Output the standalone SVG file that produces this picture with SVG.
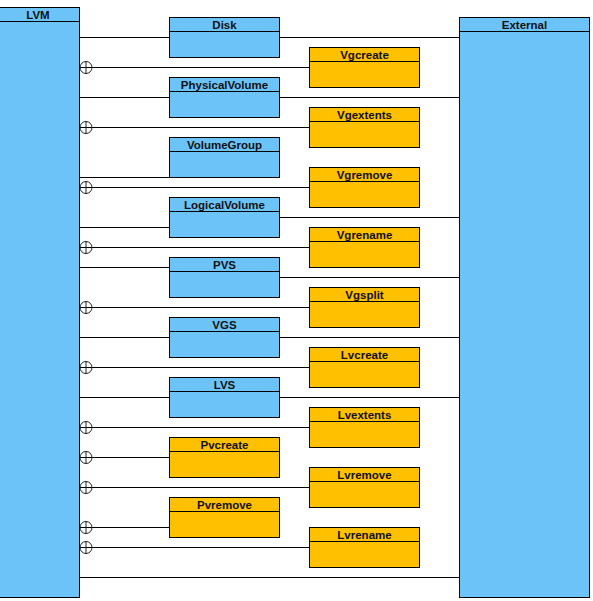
<svg xmlns="http://www.w3.org/2000/svg" width="593" height="601" viewBox="0 0 593 601">
<style>
.b{fill:#6BC3F8;stroke:#000;stroke-width:1}
.o{fill:#FFC000;stroke:#000;stroke-width:1}
.h{stroke:#000;stroke-width:1}
.t{font-family:"Liberation Sans",Arial,sans-serif;font-size:11.5px;font-weight:bold;fill:#111;text-anchor:middle}
.c{fill:none;stroke:#000;stroke-width:1}
.cp{fill:none;stroke:#000;stroke-width:1;marker-start:url(#comp)}
</style>
<defs>
<marker id="comp" markerUnits="userSpaceOnUse" markerWidth="14" markerHeight="14" refX="0" refY="7" orient="auto" overflow="visible">
<circle cx="6.5" cy="7" r="6" fill="none" stroke="#222" stroke-width="1"/>
<line x1="6.5" y1="1" x2="6.5" y2="13" stroke="#222" stroke-width="1"/>
</marker>
</defs>
<rect width="593" height="601" fill="#fff"/>
<g id="connectors">
<path class="c" d="M79.5 37.5H169.5M279.5 37.5H459.5"/>
<path class="c" d="M79.5 97.5H169.5M279.5 97.5H459.5"/>
<path class="c" d="M79.5 177.5H169.5"/>
<path class="c" d="M79.5 227.5H169.5M279.5 217.5H459.5"/>
<path class="c" d="M79.5 267.5H169.5M279.5 277.5H459.5"/>
<path class="c" d="M79.5 337.5H169.5M279.5 337.5H459.5"/>
<path class="c" d="M79.5 397.5H169.5M279.5 397.5H459.5"/>
<path class="c" d="M79.5 577.5H459.5"/>
<path class="cp" d="M79.5 67.5H309.5"/>
<path class="cp" d="M79.5 127.5H309.5"/>
<path class="cp" d="M79.5 187.5H309.5"/>
<path class="cp" d="M79.5 247.5H309.5"/>
<path class="cp" d="M79.5 307.5H309.5"/>
<path class="cp" d="M79.5 367.5H309.5"/>
<path class="cp" d="M79.5 427.5H309.5"/>
<path class="cp" d="M79.5 457.5H169.5"/>
<path class="cp" d="M79.5 487.5H309.5"/>
<path class="cp" d="M79.5 527.5H169.5"/>
<path class="cp" d="M79.5 547.5H309.5"/>
</g>
<g id="LVM"><rect class="b" x="-3.5" y="7.5" width="83" height="590"/><line class="h" x1="-3.5" y1="21.5" x2="79.5" y2="21.5"/><text class="t" x="38" y="18.5">LVM</text></g>
<g id="External"><rect class="b" x="459.5" y="17.5" width="130" height="580"/><line class="h" x1="459.5" y1="31.5" x2="589.5" y2="31.5"/><text class="t" x="524.5" y="28.5">External</text></g>
<g id="Disk"><rect class="b" x="169.5" y="17.5" width="110" height="40"/><line class="h" x1="169.5" y1="31.5" x2="279.5" y2="31.5"/><text class="t" x="224.5" y="28.5">Disk</text></g>
<g id="PhysicalVolume"><rect class="b" x="169.5" y="77.5" width="110" height="40"/><line class="h" x1="169.5" y1="91.5" x2="279.5" y2="91.5"/><text class="t" x="224.5" y="88.5">PhysicalVolume</text></g>
<g id="VolumeGroup"><rect class="b" x="169.5" y="137.5" width="110" height="40"/><line class="h" x1="169.5" y1="151.5" x2="279.5" y2="151.5"/><text class="t" x="224.5" y="148.5">VolumeGroup</text></g>
<g id="LogicalVolume"><rect class="b" x="169.5" y="197.5" width="110" height="40"/><line class="h" x1="169.5" y1="211.5" x2="279.5" y2="211.5"/><text class="t" x="224.5" y="208.5">LogicalVolume</text></g>
<g id="PVS"><rect class="b" x="169.5" y="257.5" width="110" height="40"/><line class="h" x1="169.5" y1="271.5" x2="279.5" y2="271.5"/><text class="t" x="224.5" y="268.5">PVS</text></g>
<g id="VGS"><rect class="b" x="169.5" y="317.5" width="110" height="40"/><line class="h" x1="169.5" y1="331.5" x2="279.5" y2="331.5"/><text class="t" x="224.5" y="328.5">VGS</text></g>
<g id="LVS"><rect class="b" x="169.5" y="377.5" width="110" height="40"/><line class="h" x1="169.5" y1="391.5" x2="279.5" y2="391.5"/><text class="t" x="224.5" y="388.5">LVS</text></g>
<g id="Pvcreate"><rect class="o" x="169.5" y="437.5" width="110" height="40"/><line class="h" x1="169.5" y1="451.5" x2="279.5" y2="451.5"/><text class="t" x="224.5" y="448.5">Pvcreate</text></g>
<g id="Pvremove"><rect class="o" x="169.5" y="497.5" width="110" height="40"/><line class="h" x1="169.5" y1="511.5" x2="279.5" y2="511.5"/><text class="t" x="224.5" y="508.5">Pvremove</text></g>
<g id="Vgcreate"><rect class="o" x="309.5" y="47.5" width="110" height="40"/><line class="h" x1="309.5" y1="61.5" x2="419.5" y2="61.5"/><text class="t" x="364.5" y="58.5">Vgcreate</text></g>
<g id="Vgextents"><rect class="o" x="309.5" y="107.5" width="110" height="40"/><line class="h" x1="309.5" y1="121.5" x2="419.5" y2="121.5"/><text class="t" x="364.5" y="118.5">Vgextents</text></g>
<g id="Vgremove"><rect class="o" x="309.5" y="167.5" width="110" height="40"/><line class="h" x1="309.5" y1="181.5" x2="419.5" y2="181.5"/><text class="t" x="364.5" y="178.5">Vgremove</text></g>
<g id="Vgrename"><rect class="o" x="309.5" y="227.5" width="110" height="40"/><line class="h" x1="309.5" y1="241.5" x2="419.5" y2="241.5"/><text class="t" x="364.5" y="238.5">Vgrename</text></g>
<g id="Vgsplit"><rect class="o" x="309.5" y="287.5" width="110" height="40"/><line class="h" x1="309.5" y1="301.5" x2="419.5" y2="301.5"/><text class="t" x="364.5" y="298.5">Vgsplit</text></g>
<g id="Lvcreate"><rect class="o" x="309.5" y="347.5" width="110" height="40"/><line class="h" x1="309.5" y1="361.5" x2="419.5" y2="361.5"/><text class="t" x="364.5" y="358.5">Lvcreate</text></g>
<g id="Lvextents"><rect class="o" x="309.5" y="407.5" width="110" height="40"/><line class="h" x1="309.5" y1="421.5" x2="419.5" y2="421.5"/><text class="t" x="364.5" y="418.5">Lvextents</text></g>
<g id="Lvremove"><rect class="o" x="309.5" y="467.5" width="110" height="40"/><line class="h" x1="309.5" y1="481.5" x2="419.5" y2="481.5"/><text class="t" x="364.5" y="478.5">Lvremove</text></g>
<g id="Lvrename"><rect class="o" x="309.5" y="527.5" width="110" height="40"/><line class="h" x1="309.5" y1="541.5" x2="419.5" y2="541.5"/><text class="t" x="364.5" y="538.5">Lvrename</text></g>
</svg>
